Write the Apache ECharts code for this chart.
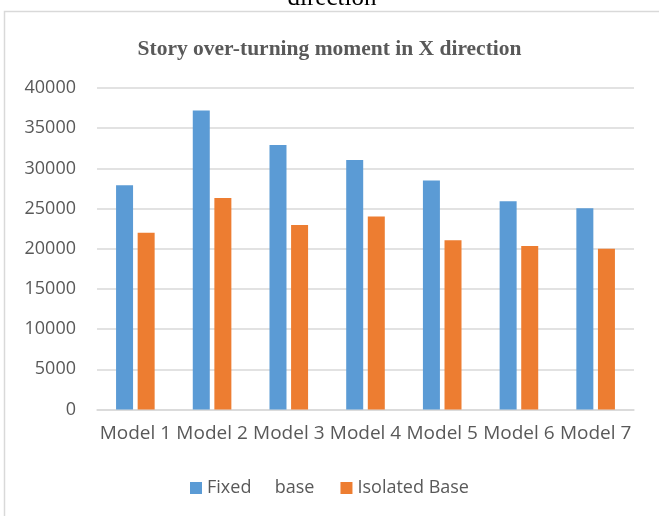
<!DOCTYPE html>
<html>
<head>
<meta charset="utf-8">
<script src="https://cdn.jsdelivr.net/npm/echarts@6/dist/echarts.min.js"></script>
<style>
  html, body { margin: 0; padding: 0; background: #fff; }
  #chart { width: 659px; height: 516px; }
</style>
</head>
<body>
<div id="chart"></div>
<script>
// data
const categories = ['Model 1', 'Model 2', 'Model 3', 'Model 4', 'Model 5', 'Model 6', 'Model 7']
const fixedBase = [27900, 37200, 32900, 31050, 28500, 25900, 25050]
const isolatedBase = [22000, 26300, 22950, 24000, 21050, 20350, 20000]
const seriesNames = ['Fixed     base', 'Isolated Base']

const textGray = '#595959'
const gridGray = '#d9d9d9'

const chart = echarts.init(document.getElementById('chart'))
chart.setOption({
  animation: false,
  backgroundColor: '#fff',
  title: {
    text: 'Story over-turning moment in X direction',
    left: 'center',
    top: 33,
    textStyle: {
      fontFamily: 'Liberation Serif',
      fontWeight: 'bold',
      fontSize: 21.5,
      color: textGray
    }
  },
  // frame of the chart and the cut-off caption above it
  graphic: [
    {
      type: 'rect',
      shape: { x: 4.5, y: 11.5, width: 700, height: 600 },
      style: { fill: 'none', stroke: gridGray, lineWidth: 1.5 },
      silent: true
    },
    {
      type: 'text',
      x: 332,
      y: 11,
      style: {
        text: 'direction',
        fontFamily: 'Liberation Serif',
        fontSize: 25,
        fill: '#000',
        align: 'center',
        verticalAlign: 'bottom'
      },
      silent: true
    }
  ],
  legend: {
    data: seriesNames,
    bottom: 14,
    left: 'center',
    itemWidth: 12,
    itemHeight: 12,
    itemGap: 26,
    icon: 'rect',
    textStyle: { fontFamily: 'Open Sans', fontSize: 18, color: textGray }
  },
  grid: { left: 97, right: 25, top: 88, bottom: 106.5 },
  xAxis: {
    type: 'category',
    data: categories,
    axisTick: { show: false },
    axisLine: { lineStyle: { color: gridGray, width: 1.5 } },
    axisLabel: {
      interval: 0,
      margin: 15,
      fontFamily: 'Open Sans',
      fontSize: 19,
      color: textGray
    }
  },
  yAxis: {
    type: 'value',
    min: 0,
    max: 40000,
    interval: 5000,
    axisLine: { show: false },
    axisTick: { show: false },
    splitLine: { lineStyle: { color: gridGray, width: 1.5 } },
    axisLabel: {
      margin: 21,
      formatter: v => String(v),
      fontFamily: 'Open Sans',
      fontSize: 18,
      color: textGray
    }
  },
  series: [
    {
      name: seriesNames[0],
      type: 'bar',
      data: fixedBase,
      barWidth: 17,
      barGap: '27%',
      itemStyle: { color: '#5b9bd5' }
    },
    {
      name: seriesNames[1],
      type: 'bar',
      data: isolatedBase,
      barWidth: 17,
      itemStyle: { color: '#ed7d31' }
    }
  ]
})
</script>
</body>
</html>
